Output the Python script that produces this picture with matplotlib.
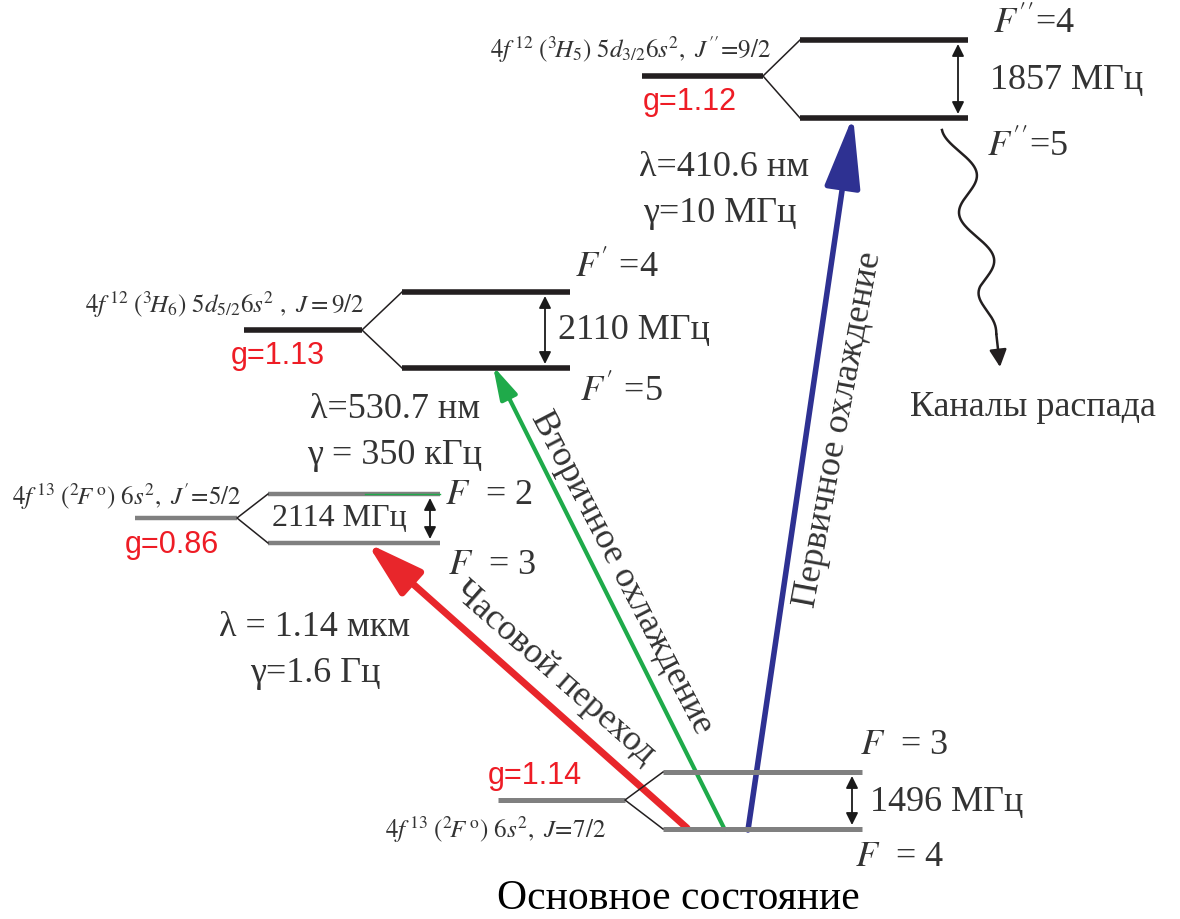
import numpy as np
import matplotlib
matplotlib.use('Agg')
import matplotlib.pyplot as plt
from matplotlib.patches import FancyArrowPatch

plt.rcParams['font.family'] = ['Liberation Serif', 'DejaVu Serif']
plt.rcParams['mathtext.fontset'] = 'stix'

# ── Level data ──────────────────────────────────────────────────────────────
config_labels = [
    r"$4f^{\,12}\ (^{3}\!H_{5})\ 5d_{3/2}6s^{2},\ J^{\prime\prime}\!=\!9/2$",
    r"$4f^{\,12}\ (^{3}\!H_{6})\ 5d_{5/2}6s^{2}\ ,\ J = 9/2$",
    r"$4f^{\,13}\ (^{2}\!F^{\,\mathrm{o}})\ 6s^{2},\ J^{\prime}\!=\!5/2$",
    r"$4f^{\,13}\ (^{2}\!F^{\,\mathrm{o}})\ 6s^{2},\ J\!=\!7/2$",
]
g_factors = ['g=1.12', 'g=1.13', 'g=0.86', 'g=1.14']
splittings = ['1857 МГц', '2110 МГц', '2114 МГц', '1496 МГц']
f_upper = [r"$F^{\prime\prime}$=4", r"$F^{\prime}$ =4", r"$F$  = 2", r"$F$  = 3"]
f_lower = [r"$F^{\prime\prime}$=5", r"$F^{\prime}$ =5", r"$F$  = 3", r"$F$  = 4"]

# transitions: 410.6 nm, 530.7 nm, 1.14 um
wavelengths = ['λ=410.6 нм', 'λ=530.7 нм', 'λ = 1.14 мкм']
linewidths = ['γ=10 МГц', 'γ = 350 кГц', 'γ=1.6 Гц']
trans_names = ['Первичное охлаждение', 'Вторичное охлаждение', 'Часовой переход']
trans_colors = ['#2e3192', '#1faa4a', '#e8262b']

# ── Layout (pixel coords, y down) ───────────────────────────────────────────
# central line x0,x1,y ; split lines xs0,xs1,y_top,y_bot
lev_center = [(642, 763, 76), (244, 362, 330), (135, 237, 518), (498, 625, 800)]
lev_split = [(800, 968, 40, 118), (402, 570, 292, 368), (268, 440, 494, 543),
             (663, 862, 772, 829)]
lev_color = ['#231f20', '#231f20', '#808080', '#808080']
lev_lw = [4.0, 4.0, 3.2, 3.6]
dim_x = [958, 545, 430, 852]
split_txt = [(990, 80), (558, 330), (272, 518), (870, 802)]
split_fs = [26, 26, 23, 26]
ftop_xy = [(993, 24), (575, 268), (445, 496), (860, 746)]
fbot_xy = [(987, 147), (580, 392), (448, 565), (855, 858)]
g_xy = [(643, 102), (231, 356), (125, 545), (488, 776)]
cfg_xy = [(490, 50), (85, 305), (12, 497), (385, 830)]

arr_from = [(748, 830), (725, 830), (687, 828)]
arr_to = [(853, 116), (493, 366), (367, 543)]
arr_lw = [4.0, 3.0, 5.0]
arr_head = [(44, 22), (20, 11), (34, 20)]
lam_xy = [(724, 167), (395, 410), (315, 628)]
gam_xy = [(720, 214), (395, 456), (315, 673)]
name_xy = [(839, 430), (622, 573), (554, 673)]
name_rot = [79.5, -62.5, -41.5]

txt = '#333333'
big = 26

fig = plt.figure(figsize=(11.8, 9.19), dpi=100)
ax = fig.add_axes([0, 0, 1, 1])
ax.set_xlim(0, 1180)
ax.set_ylim(919, 0)
ax.axis('off')

for i in range(4):
    x0, x1, yc = lev_center[i]
    xs0, xs1, yt, yb = lev_split[i]
    ax.plot([x0, x1], [yc, yc], color=lev_color[i], lw=lev_lw[i], solid_capstyle='butt')
    ax.plot([xs0, xs1], [yt, yt], color=lev_color[i], lw=lev_lw[i], solid_capstyle='butt')
    ax.plot([xs0, xs1], [yb, yb], color=lev_color[i], lw=lev_lw[i], solid_capstyle='butt')
    ax.plot([xs0, x1, xs0], [yt, yc, yb], color='#231f20', lw=1.1)
    ax.annotate('', xy=(dim_x[i], yt + 4), xytext=(dim_x[i], yb - 4),
                arrowprops=dict(arrowstyle='<|-|>', color='#1a1a1a', lw=1.3,
                                mutation_scale=18, shrinkA=0, shrinkB=0))
    ax.text(*split_txt[i], splittings[i], fontsize=split_fs[i], color=txt,
            ha='left', va='center')
    ax.text(*ftop_xy[i], f_upper[i], fontsize=big, color=txt, ha='left', va='center')
    ax.text(*fbot_xy[i], f_lower[i], fontsize=big, color=txt, ha='left', va='center')
    ax.text(*g_xy[i], g_factors[i], fontsize=22, color='#ee1c25', ha='left', va='center',
            family='Liberation Sans')
    ax.text(*cfg_xy[i], config_labels[i], fontsize=18, color=txt, ha='left', va='center')

# faint green trace on the F=2 line, as in the original figure
ax.plot([365, 440], [494, 494], color='#1faa4a', lw=1.0)

for i in range(3):
    hl, hw = arr_head[i]
    a = FancyArrowPatch(arr_from[i], arr_to[i],
                        arrowstyle=f'-|>,head_length={hl/10:.2f},head_width={hw/20:.2f}',
                        mutation_scale=10, color=trans_colors[i], lw=arr_lw[i],
                        shrinkA=0, shrinkB=0)
    ax.add_patch(a)
    ax.text(*lam_xy[i], wavelengths[i], fontsize=big, color=txt, ha='center', va='center')
    ax.text(*gam_xy[i], linewidths[i], fontsize=big, color=txt, ha='center', va='center')
    ax.text(*name_xy[i], trans_names[i], fontsize=big, color=txt, ha='center', va='center',
            rotation=name_rot[i], rotation_mode='anchor')

# decay channel wavy arrow
t = np.linspace(0, 0.86, 300)
taper = np.clip((0.86 - t) / 0.2, 0, 1)
wy = 130 + t * 237
wx = 952 + 48 * t + 13 * np.cos(2 * np.pi * (t - 0.18) / 0.36) * taper + 3
ax.plot(wx, wy, color='#231f20', lw=1.8)
ax.annotate('', xy=(1000, 367), xytext=(wx[-1], wy[-1]),
            arrowprops=dict(arrowstyle='-|>', color='#231f20', lw=1.8,
                            mutation_scale=26, shrinkA=0, shrinkB=0))
ax.text(1033, 408, 'Каналы распада', fontsize=26, color=txt, ha='center', va='center')

ax.text(678, 899, 'Основное состояние', fontsize=30, color='black', ha='center', va='center')

fig.savefig('out.png', dpi=100)
